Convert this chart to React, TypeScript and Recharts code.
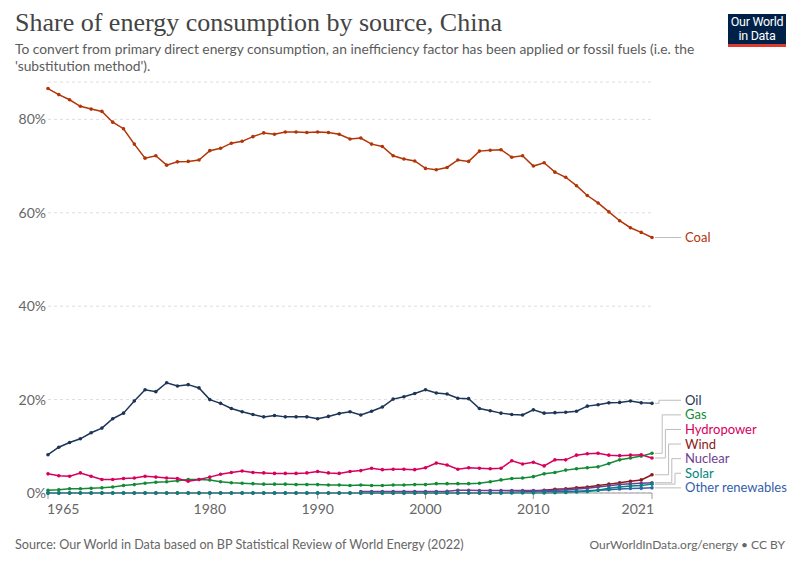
import React from 'react';
import { LineChart, Line, XAxis, YAxis, CartesianGrid } from 'recharts';

const years = [
  1965, 1966, 1967, 1968, 1969, 1970, 1971, 1972, 1973, 1974,
  1975, 1976, 1977, 1978, 1979, 1980, 1981, 1982, 1983, 1984,
  1985, 1986, 1987, 1988, 1989, 1990, 1991, 1992, 1993, 1994,
  1995, 1996, 1997, 1998, 1999, 2000, 2001, 2002, 2003, 2004,
  2005, 2006, 2007, 2008, 2009, 2010, 2011, 2012, 2013, 2014,
  2015, 2016, 2017, 2018, 2019, 2020, 2021,
];

// shares in %, 1965-2021
const coal = [
  86.6, 85.3, 84.2, 82.8, 82.2, 81.7, 79.4, 78.0, 74.7, 71.7,
  72.2, 70.2, 70.9, 71.0, 71.3, 73.3, 73.8, 74.9, 75.3, 76.3,
  77.1, 76.8, 77.3, 77.3, 77.2, 77.3, 77.2, 76.8, 75.8, 76.0,
  74.7, 74.2, 72.2, 71.5, 71.1, 69.5, 69.2, 69.7, 71.3, 71.0,
  73.2, 73.4, 73.5, 71.9, 72.2, 70.0, 70.7, 68.7, 67.6, 65.8,
  63.7, 62.1, 60.2, 58.3, 56.8, 55.8, 54.7,
];
const oil = [
  8.2, 9.8, 10.8, 11.6, 12.9, 13.9, 15.9, 17.1, 19.7, 22.1,
  21.7, 23.6, 22.9, 23.2, 22.5, 20.0, 19.2, 18.1, 17.4, 16.8,
  16.3, 16.6, 16.3, 16.3, 16.3, 15.9, 16.4, 17.0, 17.4, 16.7,
  17.5, 18.4, 20.1, 20.6, 21.3, 22.1, 21.4, 21.2, 20.3, 20.2,
  18.1, 17.6, 17.1, 16.8, 16.7, 17.8, 17.1, 17.2, 17.3, 17.5,
  18.6, 18.9, 19.3, 19.4, 19.7, 19.3, 19.2,
];
const gas = [
  0.6, 0.7, 0.9, 0.9, 1.0, 1.1, 1.3, 1.6, 1.8, 2.1,
  2.3, 2.4, 2.6, 2.9, 2.9, 2.8, 2.4, 2.2, 2.1, 2.0,
  1.9, 1.9, 1.9, 1.8, 1.8, 1.8, 1.7, 1.7, 1.6, 1.7,
  1.6, 1.6, 1.7, 1.7, 1.8, 1.8, 2.0, 2.0, 2.0, 2.0,
  2.1, 2.4, 2.8, 3.1, 3.2, 3.5, 4.1, 4.4, 4.9, 5.2,
  5.4, 5.6, 6.3, 7.1, 7.5, 7.9, 8.5,
];
const hydro = [
  4.1, 3.7, 3.6, 4.3, 3.6, 2.9, 2.9, 3.1, 3.2, 3.6,
  3.4, 3.2, 3.1, 2.5, 2.9, 3.4, 4.0, 4.4, 4.7, 4.4,
  4.3, 4.2, 4.2, 4.2, 4.3, 4.6, 4.3, 4.2, 4.6, 4.8,
  5.3, 5.0, 5.1, 5.1, 5.0, 5.4, 6.4, 6.0, 5.1, 5.4,
  5.3, 5.2, 5.3, 6.9, 6.2, 6.6, 5.8, 7.1, 7.1, 8.1,
  8.4, 8.5, 8.1, 8.0, 8.1, 8.2, 7.5,
];
const wind = [
  0, 0, 0, 0, 0, 0, 0, 0, 0, 0,
  0, 0, 0, 0, 0, 0, 0, 0, 0, 0,
  0, 0, 0, 0, 0, 0, 0, 0, 0, 0,
  0, 0, 0, 0, 0, 0, 0, 0, 0, 0,
  0, 0, 0.05, 0.1, 0.2, 0.4, 0.6, 0.8, 0.9, 1.1,
  1.3, 1.6, 1.9, 2.2, 2.5, 2.8, 3.9,
];
// nuclear has no data before 1994
const nuclear = [
  null, null, null, null, null, null, null, null, null, null,
  null, null, null, null, null, null, null, null, null, null,
  null, null, null, null, null, null, null, null, null, 0.3,
  0.3, 0.3, 0.3, 0.3, 0.3, 0.3, 0.3, 0.35, 0.6, 0.6,
  0.55, 0.55, 0.55, 0.55, 0.55, 0.55, 0.55, 0.6, 0.7, 0.85,
  1.0, 1.3, 1.55, 1.8, 2.0, 2.1, 2.2,
];
const solar = [
  0, 0, 0, 0, 0, 0, 0, 0, 0, 0,
  0, 0, 0, 0, 0, 0, 0, 0, 0, 0,
  0, 0, 0, 0, 0, 0, 0, 0, 0, 0,
  0, 0, 0, 0, 0, 0, 0, 0, 0, 0,
  0, 0, 0, 0, 0, 0, 0, 0.05, 0.1, 0.2,
  0.3, 0.6, 1.0, 1.3, 1.5, 1.6, 1.9,
];
const otherRenewables = [
  0, 0, 0, 0, 0, 0, 0, 0, 0, 0,
  0, 0, 0, 0, 0, 0, 0, 0, 0, 0,
  0, 0, 0, 0, 0, 0, 0, 0, 0, 0,
  0, 0, 0, 0, 0, 0.05, 0.05, 0.05, 0.05, 0.05,
  0.05, 0.05, 0.05, 0.1, 0.15, 0.2, 0.25, 0.3, 0.35, 0.4,
  0.5, 0.6, 0.7, 0.85, 0.95, 1.0, 1.1,
];

const xTicks = [1965, 1980, 1990, 2000, 2010, 2021];
const yTicks = [0, 20, 40, 60, 80];

const series = [
  { key: 'coal', name: 'Coal', color: '#b13507', values: coal },
  { key: 'oil', name: 'Oil', color: '#1d3557', values: oil },
  { key: 'gas', name: 'Gas', color: '#138a36', values: gas },
  { key: 'hydro', name: 'Hydropower', color: '#d7005c', values: hydro },
  { key: 'wind', name: 'Wind', color: '#8b1a1a', values: wind },
  { key: 'nuclear', name: 'Nuclear', color: '#6d3e91', values: nuclear },
  { key: 'other', name: 'Other renewables', color: '#3360a9', values: otherRenewables },
  { key: 'solar', name: 'Solar', color: '#00847e', values: solar },
];

const data = years.map((year, i) => {
  const row: any = { year };
  series.forEach((s) => (row[s.key] = s.values[i]));
  return row;
});

// plot geometry
const PLOT_TOP = 82;
const PLOT_BOTTOM = 493;
const Y_MAX = 88;
const PX_PER_UNIT = (PLOT_BOTTOM - PLOT_TOP) / Y_MAX;
const LABEL_GAP = 14.6 / PX_PER_UNIT;

// stack end labels from the bottom so they don't overlap
const last = (s) => s.values[s.values.length - 1] as number;
const byEnd = [...series].sort((a, b) => last(a) - last(b));
const labelVal: Record<string, number> = {};
let prev = -Infinity;
byEnd.forEach((s) => {
  const v = Math.max(last(s), prev + LABEL_GAP);
  labelVal[s.key] = v;
  prev = v;
});
const rank: Record<string, number> = {};
[...byEnd].reverse().forEach((s, i) => (rank[s.key] = i - 1));

const FONT = 'Lato, "Liberation Sans", Arial, sans-serif';

const makeDot = (s) => (props) => {
  const { cx, cy, index } = props;
  if (cx == null || cy == null || s.values[index] == null) return <g key={`${s.key}-${index}`} />;
  const isLast = index === years.length - 1;
  let label = null;
  if (isLast) {
    const ly = cy - (labelVal[s.key] - last(s)) * PX_PER_UNIT;
    const elbow = cx + 7 + rank[s.key] * 3.2;
    const end = cx + 29;
    const d = Math.abs(ly - cy) < 0.5
      ? `M${cx + 3},${cy}H${end}`
      : `M${cx + 3},${cy}H${elbow}V${ly}H${end}`;
    label = (
      <g>
        <path d={d} stroke="#bdbdbd" strokeWidth={1} fill="none" />
        <text x={cx + 33} y={ly} dy={4.6} fill={s.color} fontSize={13} fontFamily={FONT}>
          {s.name}
        </text>
      </g>
    );
  }
  return (
    <g key={`${s.key}-${index}`}>
      <circle cx={cx} cy={cy} r={1.8} fill={s.color} />
      {label}
    </g>
  );
};

const XTick = (props) => {
  const { x, y, payload, index } = props;
  const anchor = index === 0 ? 'start' : index === xTicks.length - 1 ? 'end' : 'middle';
  const dx = index === 0 ? -1 : index === xTicks.length - 1 ? 2 : 0;
  return (
    <text x={x + dx} y={y} dy={13} textAnchor={anchor} fill="#666" fontSize={14} fontFamily={FONT}>
      {payload.value}
    </text>
  );
};

const YTick = (props) => {
  const { y, payload } = props;
  return (
    <text x={46} y={y} dy={5} textAnchor="end" fill="#666" fontSize={14} fontFamily={FONT}>
      {payload.value}%
    </text>
  );
};

export default function App() {
  return (
    <div style={{ position: 'absolute', left: 0, top: 0, width: 800, height: 565, background: '#fff', fontFamily: FONT }}>
      <div style={{ position: 'absolute', left: 15, top: 8, fontFamily: '"Liberation Serif", "DejaVu Serif", serif', fontSize: 26, color: '#444', whiteSpace: 'nowrap' }}>
        Share of energy consumption by source, China
      </div>
      <div style={{ position: 'absolute', left: 15, top: 40, fontSize: 13.8, lineHeight: '17px', color: '#5b5b5b', whiteSpace: 'nowrap' }}>
        To convert from primary direct energy consumption, an inefficiency factor has been applied or fossil fuels (i.e. the
        <br />
        'substitution method').
      </div>
      <div style={{ position: 'absolute', left: 728, top: 14, width: 58, height: 33, background: '#002147', color: '#fff', textAlign: 'center', fontFamily: '"Liberation Sans Narrow", Roboto, sans-serif', fontSize: 12.5, lineHeight: '13.5px', paddingTop: 1, letterSpacing: -0.3, boxSizing: 'border-box', borderBottom: '3px solid #dc3a31', whiteSpace: 'nowrap' }}>
        Our World
        <br />
        in Data
      </div>
      <div style={{ position: 'absolute', left: 0, top: 0 }}>
        <LineChart width={800} height={565} data={data} margin={{ top: PLOT_TOP, right: 148, left: 0, bottom: 42 }}>
          <CartesianGrid vertical={false} stroke="#dddddd" strokeDasharray="3 3" />
          <XAxis
            dataKey="year"
            type="number"
            domain={[1965, 2021]}
            ticks={xTicks}
            height={30}
            tick={<XTick />}
            tickSize={6}
            stroke="#999"
            interval={0}
          />
          <YAxis
            domain={[0, Y_MAX]}
            ticks={yTicks}
            width={48}
            axisLine={false}
            tickLine={false}
            tick={<YTick />}
            interval={0}
          />
          {series.map((s) => (
            <Line
              key={s.key}
              dataKey={s.key}
              stroke={s.color}
              strokeWidth={1.5}
              dot={makeDot(s)}
              activeDot={false}
              isAnimationActive={false}
            />
          ))}
        </LineChart>
      </div>
      <div style={{ position: 'absolute', left: 15, top: 537, fontSize: 12.6, color: '#666', whiteSpace: 'nowrap' }}>
        Source: Our World in Data based on BP Statistical Review of World Energy (2022)
      </div>
      <div style={{ position: 'absolute', right: 15, top: 537, fontSize: 12, color: '#666', whiteSpace: 'nowrap' }}>
        OurWorldInData.org/energy • CC BY
      </div>
    </div>
  );
}
